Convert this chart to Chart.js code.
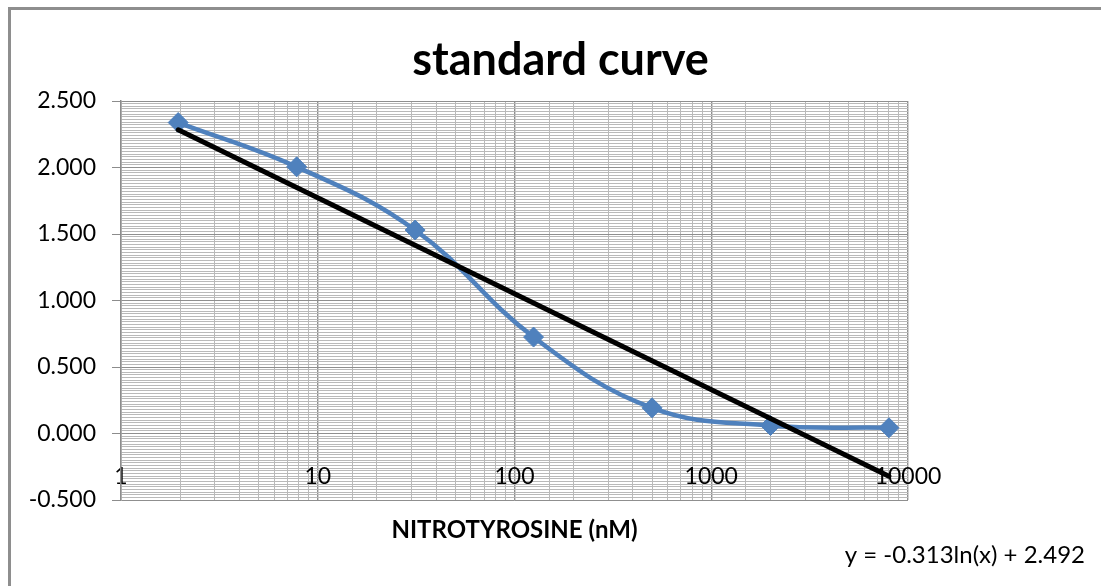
<!DOCTYPE html>
<html>
<head>
<meta charset="utf-8">
<title>standard curve</title>
<script src="https://cdn.jsdelivr.net/npm/chart.js@4.4.1/dist/chart.umd.min.js"></script>
<style>
  html, body { margin: 0; padding: 0; background: #fff; }
  #wrap { position: relative; width: 1101px; height: 586px; overflow: hidden; }
  #frame { position: absolute; left: 8px; top: 7px; right: -10px; bottom: -10px;
           border-top: 3px solid #8e8e8e; border-left: 3px solid #8e8e8e; pointer-events: none; }
</style>
</head>
<body>
<div id="wrap">
  <canvas id="curve" width="1101" height="586"></canvas>
  <div id="frame"></div>
</div>
<script>
// nitrotyrosine standards, 4-fold dilutions (nM) and measured absorbance
const concentrations = [1.953, 7.813, 31.25, 125, 500, 2000, 8000];
const absorbance = [2.338, 2.005, 1.530, 0.725, 0.193, 0.060, 0.043];

// log fit, drawn from the first to the last standard
const fitX = [1.953, 8000];
const fitY = [2.283, -0.321];
const fitLabel = 'y = -0.313ln(x) + 2.492';

const xDecades = [1, 10, 100, 1000, 10000];
const yRange = [-0.5, 2.5];
const yMajorStep = 0.5;
const yMinorStep = 0.02;
const xTitle = 'NITROTYROSINE (nM)';

const isDecade = v => xDecades.includes(v);
const isYMajor = v => Math.abs(v / yMajorStep - Math.round(v / yMajorStep)) < 1e-6;

// axis title + fit equation under the plot
const extraText = {
  id: 'extraText',
  afterDraw(chart) {
    const { ctx, chartArea } = chart;
    ctx.save();
    ctx.fillStyle = '#000';
    ctx.textBaseline = 'middle';
    ctx.font = 'bold 24px Lato';
    ctx.textAlign = 'center';
    ctx.fillText(xTitle, (chartArea.left + chartArea.right) / 2, chartArea.bottom + 30);
    ctx.font = '24px Lato';
    ctx.textAlign = 'right';
    ctx.fillText(fitLabel, chartArea.right + 177, chartArea.bottom + 55);
    ctx.restore();
  }
};

Chart.defaults.font.family = 'Lato';
Chart.defaults.color = '#000';

new Chart(document.getElementById('curve'), {
  type: 'line',
  data: {
    datasets: [{
      label: 'fit',
      data: fitX.map((x, i) => ({ x, y: fitY[i] })),
      borderColor: '#000',
      borderWidth: 5,
      borderCapStyle: 'round',
      pointRadius: 0,
      tension: 0
    }, {
      label: 'standards',
      data: concentrations.map((x, i) => ({ x, y: absorbance[i] })),
      borderColor: '#4f81bd',
      backgroundColor: '#4f81bd',
      borderWidth: 4.5,
      pointStyle: 'rectRot',
      pointRadius: 10,
      pointBorderWidth: 1,
      tension: 0.4
    }]
  },
  options: {
    responsive: false,
    animation: false,
    devicePixelRatio: 1,
    layout: { padding: { left: 20, right: 0, top: 0, bottom: 86 } },
    plugins: {
      legend: { display: false },
      tooltip: { enabled: false },
      title: {
        display: true,
        text: 'standard curve',
        font: { family: 'Lato', size: 45, weight: 'bold' },
        color: '#000',
        padding: { top: 33, bottom: 14 }
      }
    },
    scales: {
      x: {
        type: 'logarithmic',
        min: xDecades[0],
        max: xDecades[xDecades.length - 1],
        position: { y: -0.2 },
        border: { display: false },
        grid: {
          drawTicks: false,
          color: c => isDecade(c.tick.value) ? '#8f8f8f' : '#b9b9b9',
          lineWidth: c => isDecade(c.tick.value) ? 1.4 : 1
        },
        ticks: {
          autoSkip: false,
          maxRotation: 0,
          font: { size: 23 },
          callback: v => isDecade(v) ? String(v) : ''
        }
      },
      y: {
        min: yRange[0],
        max: yRange[1],
        afterFit: s => { s.width = 101; },
        border: { display: true, color: '#8c8c8c', width: 1.5 },
        grid: {
          tickLength: 9,
          color: c => isYMajor(c.tick.value) ? '#8f8f8f' : '#b9b9b9',
          tickColor: c => isYMajor(c.tick.value) ? '#8c8c8c' : 'rgba(0,0,0,0)'
        },
        ticks: {
          stepSize: yMinorStep,
          autoSkip: false,
          padding: 16,
          font: { size: 23 },
          callback: v => isYMajor(v) ? v.toFixed(3) : ''
        }
      },
      // empty strip on the right, keeps the plot narrower than the title row
      yPad: {
        position: 'right',
        min: 0,
        max: 1,
        afterFit: s => { s.width = 193; },
        border: { display: false },
        grid: { display: false },
        ticks: { display: false }
      }
    }
  },
  plugins: [extraText]
});
</script>
</body>
</html>
